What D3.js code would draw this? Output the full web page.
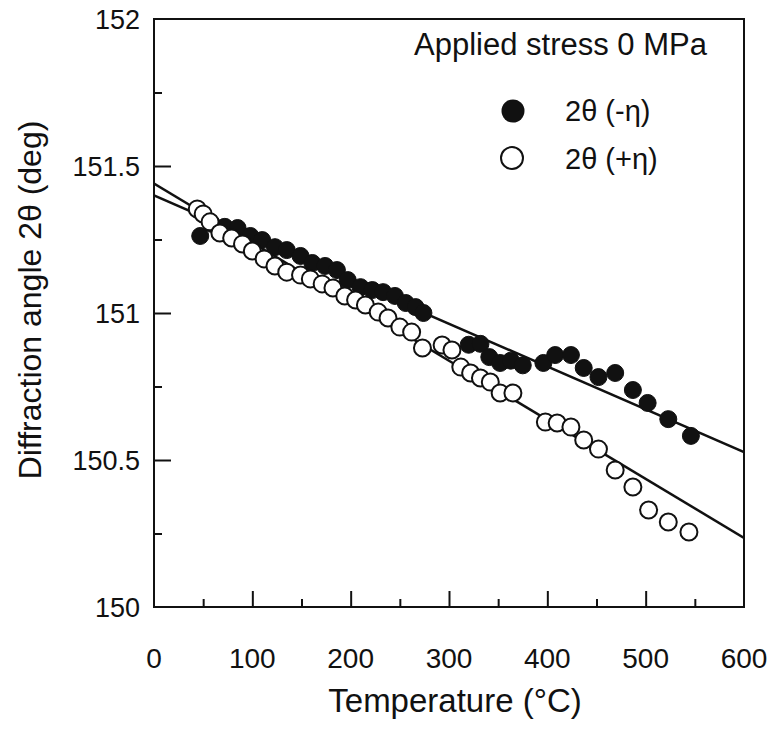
<!DOCTYPE html>
<html>
<head>
<meta charset="utf-8">
<script src="https://cdn.jsdelivr.net/npm/d3@7/dist/d3.min.js"></script>
<style>
  html, body { margin: 0; padding: 0; background: #fff; }
  text { font-family: "Liberation Sans", Arial, sans-serif; fill: #111; }
</style>
</head>
<body>
<svg id="chart" width="770" height="729"></svg>
<script>
// ---- data ----
const filledT = [47, 59, 72, 85, 98, 110, 123, 135, 149, 161, 174, 186, 197, 210, 222, 233, 245, 256, 266, 274,
                 320, 332, 341, 352, 363, 375, 396, 408, 424, 437, 452, 469, 487, 502, 523, 546];
const filledV = [151.262, 151.303, 151.293, 151.289, 151.262, 151.248, 151.224, 151.214, 151.194, 151.170,
                 151.160, 151.146, 151.112, 151.088, 151.078, 151.071, 151.058, 151.034, 151.020, 151.000,
                 150.892, 150.895, 150.850, 150.830, 150.838, 150.822, 150.830, 150.857, 150.857, 150.813,
                 150.782, 150.796, 150.738, 150.694, 150.639, 150.582];
const openT = [44, 50, 57, 67, 79, 90, 100, 112, 123, 135, 149, 159, 171, 182, 194, 205, 215, 228, 238, 250,
               262, 273, 293, 303, 312, 322, 332, 342, 352, 365, 398, 410, 424, 437, 452, 469, 487, 503, 523, 544];
const openV = [151.354, 151.337, 151.310, 151.272, 151.255, 151.235, 151.211, 151.184, 151.160, 151.139,
               151.129, 151.116, 151.099, 151.085, 151.058, 151.044, 151.027, 151.003, 150.983, 150.952,
               150.935, 150.881, 150.891, 150.874, 150.816, 150.796, 150.779, 150.765, 150.728, 150.728,
               150.629, 150.626, 150.612, 150.568, 150.537, 150.466, 150.408, 150.330, 150.289, 150.255];
// fitted lines: [T0, T1] -> [v0, v1]
const fitT = [0, 600];
const fitFilledV = [151.40, 150.527];
const fitOpenV = [151.44, 150.235];
const xTicks = [0, 100, 200, 300, 400, 500, 600];
const xMinor = [50, 150, 250, 350, 450, 550];
const yTicks = [150, 150.5, 151, 151.5, 152];
const yTickLabels = ["150", "150.5", "151", "151.5", "152"];
const yMinor = [150.25, 150.75, 151.25, 151.75];
const legendTitle = "Applied stress 0 MPa";
const legendLabels = ["2θ (-η)", "2θ (+η)"];
const xTitle = "Temperature (°C)";
const yTitle = "Diffraction angle 2θ (deg)";

// ---- layout ----
const L = 154, R = 744, T = 19, B = 607;
const svg = d3.select("#chart");
const x = d3.scaleLinear().domain([0, 600]).range([L, R]);
const y = d3.scaleLinear().domain([150, 152]).range([B, T]);

// frame
svg.append("rect").attr("x", L).attr("y", T).attr("width", R - L).attr("height", B - T)
  .attr("fill", "none").attr("stroke", "#111").attr("stroke-width", 2);

// x axis ticks (inside)
const gx = svg.append("g").attr("transform", `translate(0,${B})`);
gx.call(d3.axisTop(x).tickValues(xTicks.slice(1, -1)).tickSize(16).tickFormat(""));
gx.append("g").call(d3.axisTop(x).tickValues(xMinor).tickSize(8).tickFormat(""));
gx.selectAll(".domain").remove();
gx.selectAll("line").attr("stroke", "#111").attr("stroke-width", 2);

// y axis ticks (inside)
const gy = svg.append("g").attr("transform", `translate(${L},0)`);
gy.call(d3.axisRight(y).tickValues(yTicks.slice(1, -1)).tickSize(17).tickFormat(""));
gy.append("g").call(d3.axisRight(y).tickValues(yMinor).tickSize(8).tickFormat(""));
gy.selectAll(".domain").remove();
gy.selectAll("line").attr("stroke", "#111").attr("stroke-width", 2);

// tick labels
svg.append("g").selectAll("text").data(xTicks).join("text")
  .attr("x", d => x(d)).attr("y", 668).attr("text-anchor", "middle")
  .attr("font-size", 28).text(d => d);
svg.append("g").selectAll("text").data(yTicks).join("text")
  .attr("x", 140).attr("y", d => y(d) + 10).attr("text-anchor", "end")
  .attr("font-size", 27).text((d, i) => yTickLabels[i]);

// axis titles
svg.append("text").attr("x", 455).attr("y", 712).attr("text-anchor", "middle")
  .attr("font-size", 33).text(xTitle);
svg.append("text").attr("transform", `translate(41,300) rotate(-90)`)
  .attr("text-anchor", "middle").attr("font-size", 32).text(yTitle);

// clip
svg.append("clipPath").attr("id", "clip").append("rect")
  .attr("x", L).attr("y", T).attr("width", R - L).attr("height", B - T);
const plot = svg.append("g").attr("clip-path", "url(#clip)");

// fit lines
const line = d3.line().x(d => x(d[0])).y(d => y(d[1]));
[fitFilledV, fitOpenV].forEach(v => {
  plot.append("path").datum(fitT.map((t, i) => [t, v[i]]))
    .attr("d", line).attr("fill", "none").attr("stroke", "#111").attr("stroke-width", 2.5);
});

// markers
plot.append("g").selectAll("circle").data(filledT.map((t, i) => [t, filledV[i]])).join("circle")
  .attr("cx", d => x(d[0])).attr("cy", d => y(d[1])).attr("r", 8.5)
  .attr("fill", "#111").attr("stroke", "#111").attr("stroke-width", 1);
plot.append("g").selectAll("circle").data(openT.map((t, i) => [t, openV[i]])).join("circle")
  .attr("cx", d => x(d[0])).attr("cy", d => y(d[1])).attr("r", 8.5)
  .attr("fill", "#fff").attr("stroke", "#111").attr("stroke-width", 2);

// legend
svg.append("text").attr("x", 414).attr("y", 55).attr("font-size", 31).text(legendTitle);
svg.append("circle").attr("cx", 513).attr("cy", 111).attr("r", 11.5).attr("fill", "#111");
svg.append("circle").attr("cx", 512).attr("cy", 158).attr("r", 11).attr("fill", "#fff")
  .attr("stroke", "#111").attr("stroke-width", 2);
svg.append("text").attr("x", 565).attr("y", 121).attr("font-size", 29).text(legendLabels[0]);
svg.append("text").attr("x", 565).attr("y", 169).attr("font-size", 29).text(legendLabels[1]);
</script>
</body>
</html>
